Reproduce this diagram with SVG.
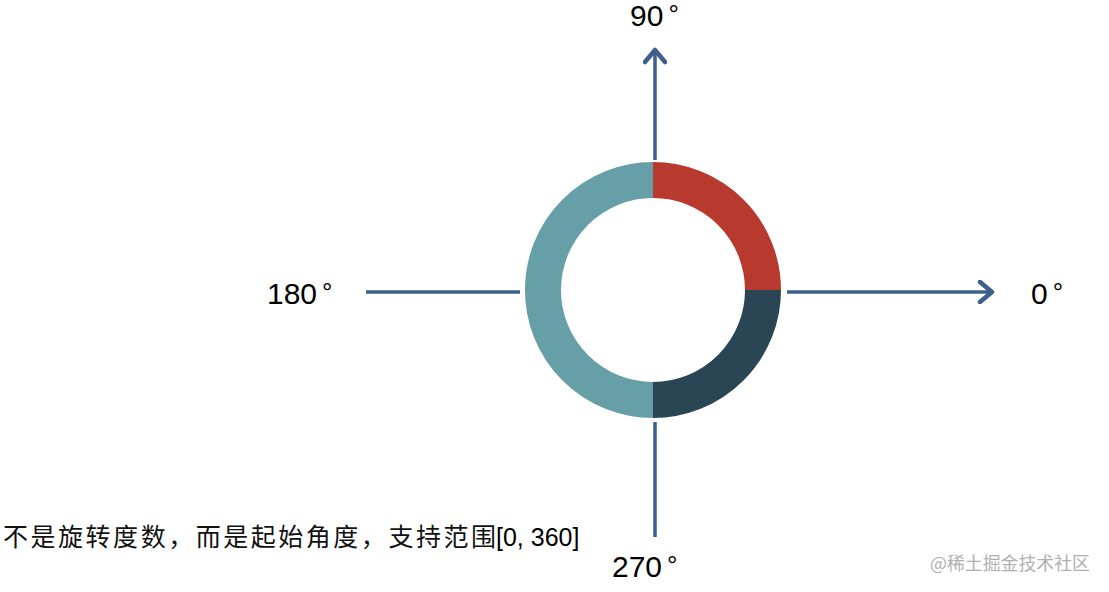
<svg xmlns="http://www.w3.org/2000/svg" width="1109" height="592" viewBox="0 0 1109 592">
<style>
.axis{stroke:#3d5f8b;stroke-width:3.5;fill:none}
.seg{fill:none;stroke-width:36}
.lbl{font-family:"Liberation Sans","Open Sans",sans-serif;font-size:30px;fill:#000}
.deg{font-size:26px}
.note{font-family:"Noto Sans CJK SC",sans-serif;font-size:25px;fill:#111}
.wm{font-family:"Noto Sans CJK SC",sans-serif;font-size:18px;fill:#b0b0b0}
</style>
<defs>
<marker id="arr" viewBox="0 0 20 24" refX="16" refY="12" markerWidth="20" markerHeight="24" markerUnits="userSpaceOnUse" orient="auto">
<path d="M4,2 L16,12 L4,22" fill="none" stroke="#3d5f8b" stroke-width="4.5" stroke-linecap="round" stroke-linejoin="round"/>
</marker>
</defs>
<g id="connectors">
<line class="axis" x1="655" y1="160" x2="655" y2="50" marker-end="url(#arr)"/>
<line class="axis" x1="655" y1="422" x2="655" y2="537"/>
<line class="axis" x1="366" y1="292" x2="520" y2="292"/>
<line class="axis" x1="787" y1="292" x2="992" y2="292" marker-end="url(#arr)"/>
</g>
<g id="ring">
<path class="seg" stroke="#b83a2f" d="M653,180 A110,110 0 0 1 763,290"/>
<path class="seg" stroke="#2a4655" d="M763,290 A110,110 0 0 1 653,400"/>
<path class="seg" stroke="#669fa7" d="M653,400 A110,110 0 1 1 653,180"/>
</g>
<g id="label-90"><text class="lbl" x="630" y="26">90<tspan class="deg" dx="5" dy="-3">°</tspan></text></g>
<g id="label-180"><text class="lbl" x="267" y="304">180<tspan class="deg" dx="5" dy="-3">°</tspan></text></g>
<g id="label-0"><text class="lbl" x="1031" y="304">0<tspan class="deg" dx="5" dy="-3">°</tspan></text></g>
<g id="label-270"><text class="lbl" x="612" y="577">270<tspan class="deg" dx="5" dy="-3">°</tspan></text></g>
<g id="note">
<text class="note" x="3" y="546" textLength="493" lengthAdjust="spacing">不是旋转度数，而是起始角度，支持范围</text>
<text class="lbl" x="496" y="546" style="font-size:25px">[0, 360]</text>
</g>
<g id="watermark"><text class="wm" x="930" y="570" textLength="160" lengthAdjust="spacingAndGlyphs">@稀土掘金技术社区</text></g>
</svg>
